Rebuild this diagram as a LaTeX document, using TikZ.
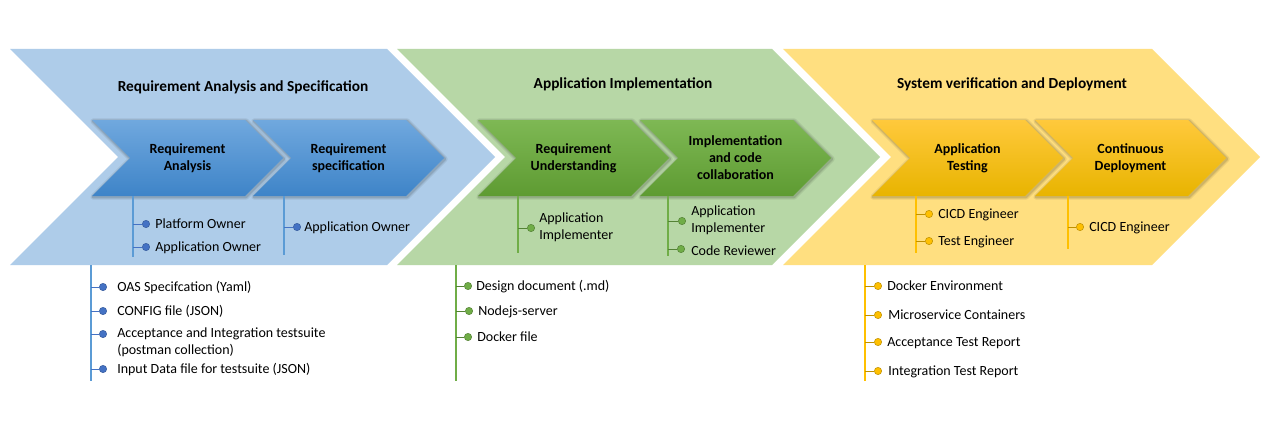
\documentclass[tikz,border=0pt]{standalone}
\usepackage{fontspec}
\setmainfont{Carlito}
\definecolor{bigblue}{RGB}{174,204,233}
\definecolor{biggreen}{RGB}{183,215,166}
\definecolor{bigyellow}{RGB}{255,223,128}
\definecolor{ibtop}{RGB}{112,168,222}
\definecolor{ibbot}{RGB}{62,132,200}
\definecolor{igtop}{RGB}{126,184,84}
\definecolor{igbot}{RGB}{94,155,50}
\definecolor{iytop}{RGB}{255,201,60}
\definecolor{iybot}{RGB}{232,180,0}
\definecolor{lblue}{RGB}{91,155,213}
\definecolor{dblue}{RGB}{68,114,196}
\definecolor{lgreen}{RGB}{112,173,71}
\definecolor{dgreen}{RGB}{84,130,53}
\definecolor{lyellow}{RGB}{255,192,0}
\definecolor{dyellow}{RGB}{191,144,0}
\newcommand\chevshape[4]{(#1,#2) -- ({#1+#3},#2) -- ({#1+#3+#4/2},{#2+#4/2}) -- ({#1+#3},{#2+#4}) -- (#1,{#2+#4}) -- ({#1+#4/2},{#2+#4/2}) -- cycle}
\begin{document}
\begin{tikzpicture}[x=0.75pt,y=-0.75pt,
  title/.style={font=\fontsize{11.5}{13}\selectfont\bfseries, inner sep=0pt},
  inner/.style={font=\fontsize{10.5}{12.75}\selectfont\bfseries, align=center, inner sep=0pt},
  item/.style={font=\fontsize{10.5}{12.75}\selectfont, inner sep=0pt, anchor=base west},
  item2/.style={font=\fontsize{10.5}{12.75}\selectfont, inner sep=0pt, anchor=west, align=left},
  halo/.style={draw=black, line join=round, fill=none},
  bline/.style={draw=lblue, line width=1.5pt},
  gline/.style={draw=lgreen, line width=1.5pt},
  yline/.style={draw=lyellow, line width=1.5pt},
  btick/.style={draw=dblue, line width=0.75pt},
  gtick/.style={draw=dgreen, line width=0.75pt},
  ytick/.style={draw=dyellow, line width=0.75pt},
  bbul/.style={circle, fill=dblue, draw=dblue!80!black, line width=0.4pt, minimum size=5.5pt, inner sep=0pt},
  gbul/.style={circle, fill=lgreen, draw=dgreen, line width=0.4pt, minimum size=5.5pt, inner sep=0pt},
  ybul/.style={circle, fill=lyellow, draw=dyellow, line width=0.4pt, minimum size=5.5pt, inner sep=0pt},
]
\useasboundingbox (0,0) rectangle (1284,428);
\fill[white] (0,0) rectangle (1284,428);

% big chevrons
\fill[bigblue] \chevshape{10}{49}{377}{216};
\fill[biggreen] \chevshape{397}{49}{375}{216};
\fill[bigyellow] \chevshape{783}{49}{369}{216};

\node[title] (t1) at (243,87) {Requirement Analysis and Specification};
\node[title] (t2) at (623,84) {Application Implementation};
\node[title] (t3) at (1012,84) {System verification and Deployment};

% inner chevrons
\foreach \x/\tc/\bc in {92/ibtop/ibbot, 253/ibtop/ibbot, 478/igtop/igbot, 640/igtop/igbot, 872/iytop/iybot, 1035/iytop/iybot}{
  \draw[halo, opacity=0.08, line width=4pt] \chevshape{\x+1}{121}{153}{76};
  \draw[halo, opacity=0.12, line width=2pt] \chevshape{\x+1}{121}{153}{76};
  \shade[top color=\tc, bottom color=\bc] \chevshape{\x}{120}{153}{76};
}
\node[inner] (c1) at (187.5,158) {Requirement\\Analysis};
\node[inner] (c2) at (348.5,158) {Requirement\\specification};
\node[inner] (c3) at (573.5,158) {Requirement\\Understanding};
\node[inner] (c4) at (735.5,158) {Implementation\\and code\\collaboration};
\node[inner] (c5) at (967.5,158) {Application\\Testing};
\node[inner] (c6) at (1130.5,158) {Continuous\\Deployment};

% --- sub lists under inner chevrons
% c1
\coordinate (c1t) at (133,196); \coordinate (c1b) at (133,257);
\draw[bline] (c1t) -- (c1b);
\node[bbul] (c1p1) at (146,224) {}; \node[bbul] (c1p2) at (146,247) {};
\draw[btick] (c1p1 -| c1t) -- (c1p1.west);
\draw[btick] (c1p2 -| c1t) -- (c1p2.west);
\node[item] (c1x1) at (155,228.5) {Platform Owner};
\node[item] (c1x2) at (155,251.5) {Application Owner};
% c2
\coordinate (c2t) at (284,196); \coordinate (c2b) at (284,255);
\draw[bline] (c2t) -- (c2b);
\node[bbul] (c2p1) at (297,227) {};
\draw[btick] (c2p1 -| c2t) -- (c2p1.west);
\node[item] (c2x1) at (304,231.5) {Application Owner};
% c3
\coordinate (c3t) at (518,196); \coordinate (c3b) at (518,253);
\draw[gline] (c3t) -- (c3b);
\node[gbul] (c3p1) at (531,228) {};
\draw[gtick] (c3p1 -| c3t) -- (c3p1.west);
\node[item2] (c3x1) at (539,227) {Application\\Implementer};
% c4
\coordinate (c4t) at (668,196); \coordinate (c4b) at (668,256);
\draw[gline] (c4t) -- (c4b);
\node[gbul] (c4p1) at (682,221) {}; \node[gbul] (c4p2) at (681,249) {};
\draw[gtick] (c4p1 -| c4t) -- (c4p1.west);
\draw[gtick] (c4p2 -| c4t) -- (c4p2.west);
\node[item2] (c4x1) at (691,220) {Application\\Implementer};
\node[item] (c4x2) at (691,255.5) {Code Reviewer};
% c5
\coordinate (c5t) at (916,196); \coordinate (c5b) at (916,253);
\draw[yline] (c5t) -- (c5b);
\node[ybul] (c5p1) at (929,214) {}; \node[ybul] (c5p2) at (929,241) {};
\draw[ytick] (c5p1 -| c5t) -- (c5p1.west);
\draw[ytick] (c5p2 -| c5t) -- (c5p2.west);
\node[item] (c5x1) at (938,218.5) {CICD Engineer};
\node[item] (c5x2) at (938,245.5) {Test Engineer};
% c6
\coordinate (c6t) at (1068,196); \coordinate (c6b) at (1068,249);
\draw[yline] (c6t) -- (c6b);
\node[ybul] (c6p1) at (1080,227) {};
\draw[ytick] (c6p1 -| c6t) -- (c6p1.west);
\node[item] (c6x1) at (1089,231.5) {CICD Engineer};

% --- bottom lists
% blue
\coordinate (b1t) at (91,265); \coordinate (b1b) at (91,381);
\draw[bline] (b1t) -- (b1b);
\node[bbul] (b1p1) at (103,287) {};
\node[bbul] (b1p2) at (103,311) {};
\node[bbul] (b1p3) at (103,334) {};
\node[bbul] (b1p4) at (103,369) {};
\foreach \i in {1,...,4}{\draw[btick] (b1p\i -| b1t) -- (b1p\i.west);}
\node[item] (b1x1) at (117,291.5) {OAS Specifcation (Yaml)};
\node[item] (b1x2) at (117,315.5) {CONFIG file (JSON)};
\node[item2] (b1x3) at (117,342.5) {Acceptance and Integration testsuite\\(postman collection)};
\node[item] (b1x4) at (117,373.5) {Input Data file for testsuite (JSON)};
% green
\coordinate (b2t) at (456,265); \coordinate (b2b) at (456,381);
\draw[gline] (b2t) -- (b2b);
\node[gbul] (b2p1) at (468,286) {};
\node[gbul] (b2p2) at (469,311) {};
\node[gbul] (b2p3) at (468,337) {};
\foreach \i in {1,...,3}{\draw[gtick] (b2p\i -| b2t) -- (b2p\i.west);}
\node[item] (b2x1) at (476,290.5) {Design document (.md)};
\node[item] (b2x2) at (478,315.5) {Nodejs-server};
\node[item] (b2x3) at (477,341.5) {Docker file};
% yellow
\coordinate (b3t) at (865,265); \coordinate (b3b) at (865,381);
\draw[yline] (b3t) -- (b3b);
\node[ybul] (b3p1) at (878,286) {};
\node[ybul] (b3p2) at (878,315) {};
\node[ybul] (b3p3) at (878,342) {};
\node[ybul] (b3p4) at (878,371) {};
\foreach \i in {1,...,4}{\draw[ytick] (b3p\i -| b3t) -- (b3p\i.west);}
\node[item] (b3x1) at (887,290.5) {Docker Environment};
\node[item] (b3x2) at (888,319.5) {Microservice Containers};
\node[item] (b3x3) at (887,346.5) {Acceptance Test Report};
\node[item] (b3x4) at (888,375.5) {Integration Test Report};
\end{tikzpicture}
\end{document}
